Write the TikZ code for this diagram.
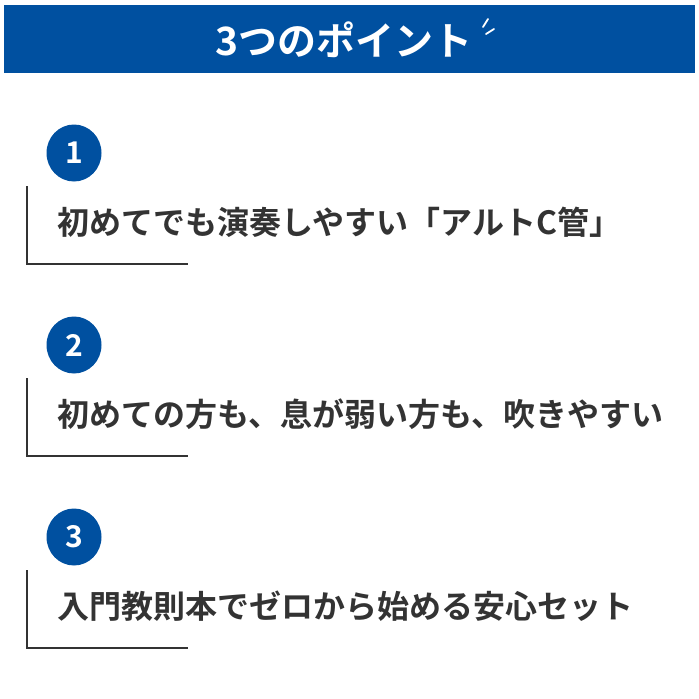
\documentclass[tikz,border=0pt]{standalone}
\usepackage{fontspec}
\newfontfamily\jp{Noto Sans CJK JP}[BoldFont={Noto Sans CJK JP Bold}]
\definecolor{hblue}{HTML}{0050A0}
\definecolor{tgray}{HTML}{333333}
\begin{document}
\begin{tikzpicture}[x=1pt,y=-1pt,
  numc/.style={ellipse,fill=hblue,minimum width=55pt,minimum height=57pt,inner sep=0,text=white,font=\jp\bfseries\fontsize{30}{30}\selectfont},
  bracket/.style={draw=tgray,line width=1.4pt},
  itemtxt/.style={anchor=west,inner sep=0,text=tgray,font=\jp\bfseries\fontsize{32}{32}\selectfont}]
\usetikzlibrary{shapes.geometric}
\useasboundingbox (0,0) rectangle (699,699);
\fill[hblue] (4,5) rectangle (695,73);
\node[text=white,font=\jp\bfseries\fontsize{39}{39}\selectfont,inner sep=0] (title) at (344,40) {3つのポイント};
\draw[white,line width=1.8pt,line cap=round] (483,27) -- (488,19) (486,34) -- (494,29);
\foreach \n/\t [count=\i from 0] in {1/初めてでも演奏しやすい「アルトC管」,2/初めての方も、息が弱い方も、吹きやすい,3/入門教則本でゼロから始める安心セット}{
  \pgfmathsetmacro{\dy}{192*\i}
  \node[numc] (c\n) at (74,153+\dy) {\n};
  \draw[bracket] (27,186+\dy) -- (27,264+\dy) -- (188,264+\dy);
  \node[itemtxt] (t\n) at (57,222+\dy) {\t};
}
\end{tikzpicture}
\end{document}
